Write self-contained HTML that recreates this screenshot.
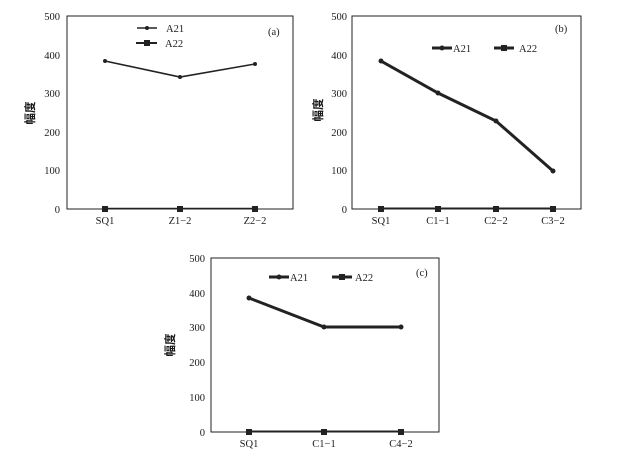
<!DOCTYPE html>
<html><head><meta charset="utf-8"><style>
body{margin:0;background:#fff}
svg{display:block}
text{font-family:"Liberation Serif","Noto Serif CJK SC",serif;font-size:10.5px;fill:#1a1a1a}
.t{text-anchor:end}
.c{text-anchor:middle}
.y{font-family:"Noto Sans CJK SC",sans-serif;font-size:11.5px;font-weight:bold}
</style></head><body>
<svg width="619" height="456" viewBox="0 0 619 456">
<!-- Panel a -->
<rect x="67" y="16" width="226" height="193" fill="none" stroke="#222" stroke-width="1"/>
<text x="60" y="20" class="t">500</text><text x="60" y="59" class="t">400</text><text x="60" y="97" class="t">300</text><text x="60" y="136" class="t">200</text><text x="60" y="174" class="t">100</text><text x="60" y="213" class="t">0</text>
<text x="105" y="224" class="c">SQ1</text><text x="180" y="224" class="c">Z1−2</text><text x="255" y="224" class="c">Z2−2</text>
<text transform="translate(34,113) rotate(-90)" class="c y">幅度</text>
<polyline points="105,61 180,77 255,64" fill="none" stroke="#222" stroke-width="1.6"/>
<g fill="#222"><circle cx="105" cy="61" r="2"/><circle cx="180" cy="77" r="2"/><circle cx="255" cy="64" r="2"/></g>
<line x1="105" y1="208.5" x2="255" y2="208.5" stroke="#222" stroke-width="1.5"/>
<g fill="#222"><rect x="102" y="206" width="6" height="6"/><rect x="177" y="206" width="6" height="6"/><rect x="252" y="206" width="6" height="6"/></g>
<line x1="137" y1="28" x2="157" y2="28" stroke="#222" stroke-width="1.6"/><circle cx="147" cy="28" r="2" fill="#222"/>
<text x="166" y="32">A21</text>
<line x1="136" y1="43" x2="157" y2="43" stroke="#222" stroke-width="2"/><rect x="144" y="40" width="6" height="6" fill="#222"/>
<text x="165" y="47">A22</text>
<text x="268" y="35">(a)</text>

<!-- Panel b -->
<rect x="352" y="16" width="229" height="193" fill="none" stroke="#222" stroke-width="1"/>
<text x="347" y="20" class="t">500</text><text x="347" y="59" class="t">400</text><text x="347" y="97" class="t">300</text><text x="347" y="136" class="t">200</text><text x="347" y="174" class="t">100</text><text x="347" y="213" class="t">0</text>
<text x="381" y="224" class="c">SQ1</text><text x="438" y="224" class="c">C1−1</text><text x="496" y="224" class="c">C2−2</text><text x="553" y="224" class="c">C3−2</text>
<text transform="translate(322,110) rotate(-90)" class="c y">幅度</text>
<polyline points="381,61 438,93 496,121 553,171" fill="none" stroke="#222" stroke-width="3"/>
<g fill="#222"><circle cx="381" cy="61" r="2.5"/><circle cx="438" cy="93" r="2.5"/><circle cx="496" cy="121" r="2.5"/><circle cx="553" cy="171" r="2.5"/></g>
<line x1="381" y1="208.5" x2="553" y2="208.5" stroke="#222" stroke-width="2"/>
<g fill="#222"><rect x="378" y="206" width="6" height="6"/><rect x="435" y="206" width="6" height="6"/><rect x="493" y="206" width="6" height="6"/><rect x="550" y="206" width="6" height="6"/></g>
<line x1="432" y1="48" x2="452" y2="48" stroke="#222" stroke-width="3"/><circle cx="442" cy="48" r="2.5" fill="#222"/>
<text x="453" y="52">A21</text>
<line x1="494" y1="48" x2="514" y2="48" stroke="#222" stroke-width="3"/><rect x="501" y="45" width="6" height="6" fill="#222"/>
<text x="519" y="52">A22</text>
<text x="555" y="32">(b)</text>

<!-- Panel c -->
<rect x="211" y="258" width="228" height="174" fill="none" stroke="#222" stroke-width="1"/>
<text x="205" y="262" class="t">500</text><text x="205" y="297" class="t">400</text><text x="205" y="331" class="t">300</text><text x="205" y="366" class="t">200</text><text x="205" y="401" class="t">100</text><text x="205" y="436" class="t">0</text>
<text x="249" y="447" class="c">SQ1</text><text x="324" y="447" class="c">C1−1</text><text x="401" y="447" class="c">C4−2</text>
<text transform="translate(174,345) rotate(-90)" class="c y">幅度</text>
<polyline points="249,298 324,327 401,327" fill="none" stroke="#222" stroke-width="3"/>
<g fill="#222"><circle cx="249" cy="298" r="2.5"/><circle cx="324" cy="327" r="2.5"/><circle cx="401" cy="327" r="2.5"/></g>
<line x1="249" y1="431.5" x2="401" y2="431.5" stroke="#222" stroke-width="2"/>
<g fill="#222"><rect x="246" y="429" width="6" height="6"/><rect x="321" y="429" width="6" height="6"/><rect x="398" y="429" width="6" height="6"/></g>
<line x1="269" y1="277" x2="289" y2="277" stroke="#222" stroke-width="3"/><circle cx="279" cy="277" r="2.5" fill="#222"/>
<text x="290" y="281">A21</text>
<line x1="332" y1="277" x2="352" y2="277" stroke="#222" stroke-width="3"/><rect x="339" y="274" width="6" height="6" fill="#222"/>
<text x="355" y="281">A22</text>
<text x="416" y="276">(c)</text>
</svg>
</body></html>
